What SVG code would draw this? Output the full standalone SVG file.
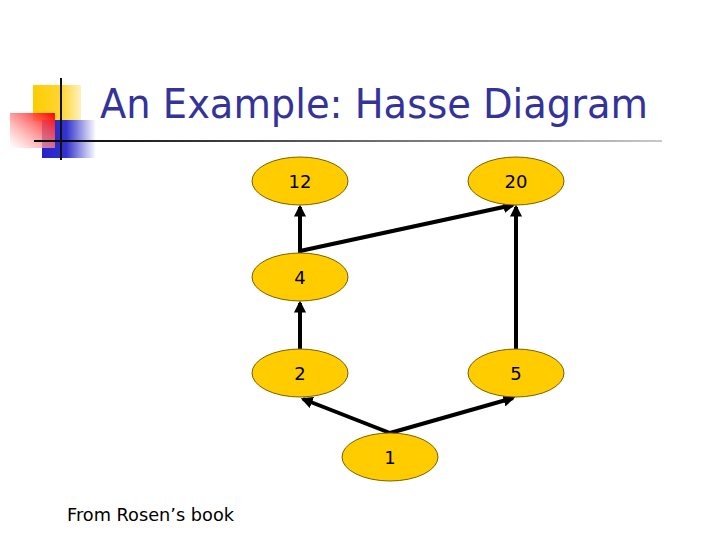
<svg xmlns="http://www.w3.org/2000/svg" width="720" height="540" viewBox="0 0 720 540">
<style>
.node ellipse{fill:#FFCC00;stroke:#7A6000;stroke-width:1}
.node text{font-family:"DejaVu Sans",Verdana,sans-serif;font-size:18px;fill:#000;text-anchor:middle}
.edge{stroke:#000;stroke-width:4;fill:none;marker-end:url(#arr)}
</style>
<defs>
<marker id="arr" viewBox="0 0 10 10" refX="8" refY="5" markerWidth="3" markerHeight="3" orient="auto" markerUnits="strokeWidth">
<path d="M0,0 L10,5 L0,10 z" fill="#000"/>
</marker>
<linearGradient id="gy" x1="0" y1="0" x2="1" y2="0">
<stop offset="0" stop-color="#FFCC00"/><stop offset="0.6" stop-color="#FFD633"/><stop offset="1" stop-color="#FFF2C0"/>
</linearGradient>
<linearGradient id="gr" x1="1" y1="0" x2="0" y2="1">
<stop offset="0" stop-color="#FF0000"/><stop offset="1" stop-color="#FFFFFF" stop-opacity="0.6"/>
</linearGradient>
<linearGradient id="gb" x1="0" y1="0" x2="1" y2="0">
<stop offset="0" stop-color="#2222CC"/><stop offset="0.45" stop-color="#3333CC"/><stop offset="1" stop-color="#FFFFFF"/>
</linearGradient>
<linearGradient id="gl" x1="0" y1="0" x2="1" y2="0">
<stop offset="0" stop-color="#000"/><stop offset="1" stop-color="#C8C8C8"/>
</linearGradient>
</defs>
<rect width="720" height="540" fill="#fff"/>
<g id="decor">
<rect x="33" y="85" width="48" height="36" fill="url(#gy)"/>
<rect x="42" y="120" width="54" height="38" fill="url(#gb)"/>
<rect x="10" y="113" width="45" height="35" fill="url(#gr)"/>
<rect x="34" y="140" width="628" height="2" fill="url(#gl)"/>
<rect x="60" y="78" width="2" height="82" fill="#111"/>
</g>
<text x="100" y="118" font-family="DejaVu Sans,Verdana,sans-serif" font-size="40" fill="#333399" textLength="548" lengthAdjust="spacingAndGlyphs">An Example: Hasse Diagram</text>
<g id="connectors">
<line class="edge" x1="300" y1="253" x2="300" y2="207"/>
<line class="edge" x1="300" y1="251" x2="513" y2="205"/>
<line class="edge" x1="516" y1="349" x2="516" y2="207"/>
<line class="edge" x1="300" y1="349" x2="300" y2="303"/>
<line class="edge" x1="390" y1="433" x2="303" y2="399"/>
<line class="edge" x1="390" y1="433" x2="513" y2="398"/>
</g>
<g id="n12" class="node"><ellipse cx="300" cy="181" rx="48" ry="24"/><text x="300" y="188">12</text></g>
<g id="n20" class="node"><ellipse cx="516" cy="181" rx="48" ry="24"/><text x="516" y="188">20</text></g>
<g id="n4" class="node"><ellipse cx="300" cy="277" rx="48" ry="24"/><text x="300" y="284">4</text></g>
<g id="n2" class="node"><ellipse cx="300" cy="373" rx="48" ry="24"/><text x="300" y="380">2</text></g>
<g id="n5" class="node"><ellipse cx="516" cy="373" rx="48" ry="24"/><text x="516" y="380">5</text></g>
<g id="n1" class="node"><ellipse cx="390" cy="457" rx="48" ry="24"/><text x="390" y="464">1</text></g>
<text x="67" y="521" font-family="DejaVu Sans,Verdana,sans-serif" font-size="18" fill="#000" textLength="167" lengthAdjust="spacingAndGlyphs">From Rosen’s book</text>
</svg>
